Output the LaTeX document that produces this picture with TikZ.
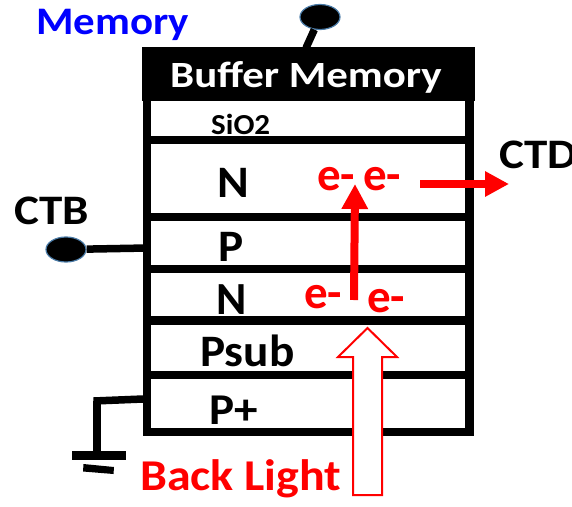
\documentclass[tikz,border=0pt]{standalone}
\usepackage{fontspec}
\setmainfont{Carlito}[BoldFont=Carlito Bold]
\usetikzlibrary{arrows.meta,shapes.geometric}
\definecolor{pinblue}{HTML}{4A7BA7}
\newcommand{\lblfont}[2]{\fontspec{Carlito Bold}[FakeStretch=#2]\fontsize{#1}{#1}\selectfont}
\tikzset{
  lbl/.style 2 args={anchor=base west,inner sep=0pt,font={\lblfont{#1}{#2}}},
  layerline/.style={draw=black,line width=8.5pt,line cap=butt},
  pin/.style={ellipse,draw=pinblue,fill=black,line width=1.2pt,inner sep=0pt,minimum width=#1},
  wire/.style={draw=black,line width=7.5pt},
  redarrow/.style={draw=red,line width=8pt}
}
\begin{document}
\begin{tikzpicture}[x=1pt,y=-1pt]
\useasboundingbox (0,0) rectangle (572,506);
% wires and pins
\node[pin=40pt,minimum height=25pt] (memPin) at (320,17) {};
\node[pin=40pt,minimum height=25pt] (ctbPin) at (66,249.5) {};
\coordinate (memEnd) at (306,48);
\coordinate (ctbEnd) at (147,248);
\draw[wire] (memPin) -- (memEnd);
\draw[wire] (ctbPin) -- (ctbEnd);
% device
\coordinate (wallTL) at (147,47);
\coordinate (wallBL) at (147,436);
\coordinate (wallTR) at (469.5,47);
\coordinate (wallBR) at (469.5,436);
\draw[draw=black,line width=8.5pt] (wallTL) -- (wallBL);
\draw[draw=black,line width=8.5pt] (wallTR) -- (wallBR);
\fill[black] (142,47) rectangle (475,101);
\foreach \yy in {140,217,269,320.5,375,432}{
  \draw[layerline] (143,\yy) -- (474,\yy);
}
% ground
\coordinate (gndA) at (143,399);
\coordinate (gndB) at (93.5,401);
\coordinate (gndC) at (97,401);
\coordinate (gndD) at (97,455);
\draw[wire] (gndA) -- (gndB);
\draw[wire] (gndC) -- (gndD);
\fill[black] (72,451) rectangle (126,460);
\fill[black] (83.5,464) -- (114,467) -- (113.5,474) -- (83,471.5) -- cycle;
% text
\node[lbl={39}{1.10},text=blue] (memory) at (36,34) {Memory};
\node[lbl={37}{1.16},text=white] (buffer) at (170,87) {Buffer Memory};
\node[lbl={29}{1.07}] (sio) at (211,134) {SiO2};
\node[lbl={45}{1.07}] (n1) at (217,197) {N};
\node[lbl={42}{1.12}] (ctb) at (14,224) {CTB};
\node[lbl={42}{1.12}] (ctd) at (499,168) {CTD};
\node[lbl={45}{1.05}] (p1) at (218,261) {P};
\node[lbl={46}{1.00}] (n2) at (216,314) {N};
\node[lbl={45}{1.05}] (psub) at (200,366) {Psub};
\node[lbl={44}{1.07}] (pplus) at (209,424) {P+};
\node[lbl={47}{1.00},text=red] (e1) at (317,190) {e-};
\node[lbl={47}{1.00},text=red] (e2) at (363,190) {e-};
\node[lbl={47}{1.00},text=red] (e3) at (304,308) {e-};
\node[lbl={47}{1.00},text=red] (e4) at (367,312) {e-};
% red arrows
\coordinate (upS) at (354,300);
\coordinate (upE) at (355,184);
\coordinate (rtS) at (420,184);
\coordinate (rtE) at (509,184);
\draw[redarrow,-{Triangle[length=25pt,width=25pt,sep=0pt]}] (upS) -- (upE);
\draw[redarrow,-{Triangle[length=24pt,width=24pt,sep=0pt]}] (rtS) -- (rtE);
% hollow arrow
\draw[draw=red,fill=white,line width=2pt,line join=miter]
  (367.5,328) -- (397,357) -- (382,357) -- (382,495) -- (353,495) -- (353,357) -- (338,357) -- cycle;
\node[lbl={44}{1.09},text=red] (back) at (140,490) {Back Light};
\end{tikzpicture}
\end{document}
